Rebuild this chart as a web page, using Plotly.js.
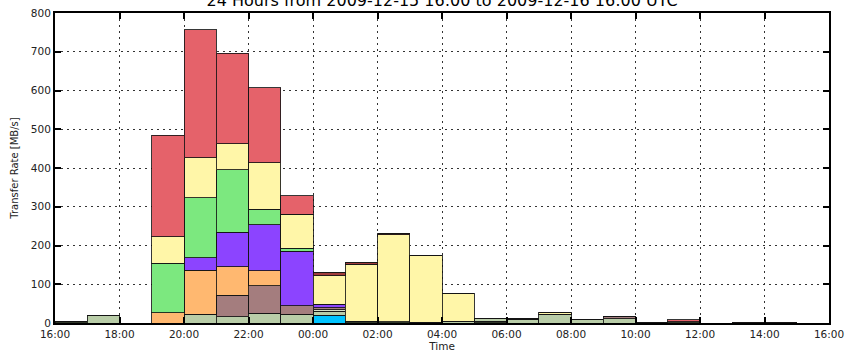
<!DOCTYPE html>
<html>
<head>
<meta charset="utf-8">
<script src="https://cdn.plot.ly/plotly-3.0.1.min.js"></script>
<style>html,body{margin:0;padding:0;background:#fff;}#chart{width:847px;height:352px;}</style>
</head>
<body>
<div id="chart"></div>
<script>
// Hourly bins (start times), 2009-12-15 16:00 .. 2009-12-16 15:00 UTC
const binStart = [
  "2009-12-15 16:00","2009-12-15 17:00","2009-12-15 18:00","2009-12-15 19:00",
  "2009-12-15 20:00","2009-12-15 21:00","2009-12-15 22:00","2009-12-15 23:00",
  "2009-12-16 00:00","2009-12-16 01:00","2009-12-16 02:00","2009-12-16 03:00",
  "2009-12-16 04:00","2009-12-16 05:00","2009-12-16 06:00","2009-12-16 07:00",
  "2009-12-16 08:00","2009-12-16 09:00","2009-12-16 10:00","2009-12-16 11:00",
  "2009-12-16 12:00","2009-12-16 13:00","2009-12-16 14:00","2009-12-16 15:00"
];

// Series values in MB/s (stack order bottom -> top)
const darkVals   = [3,0,0,0, 0,0,0,0, 0,5,3,2, 0,4,0,0, 0,0,2,3, 0,0,0,0];
const cyanVals   = [0,0,0,0, 0,0,0,0, 20,0,0,0, 0,0,0,0, 0,0,0,0, 0,0,0,0];
const sageVals   = [0,20,0,0, 22,16,25,22, 10,0,0,0, 5,8,10,23, 9,11,0,0, 0,0,0,0];
const lightVals  = [0,0,0,0, 0,0,0,0, 4,0,0,0, 0,0,0,0, 0,0,0,0, 0,0,0,0];
const mauveVals  = [0,0,0,0, 0,56,71,23, 6,0,0,0, 0,0,0,0, 0,5,0,0, 0,0,0,0];
const orangeVals = [0,0,0,26, 114,73,39,0, 0,0,0,0, 0,0,0,0, 0,0,0,0, 0,0,0,0];
const purpleVals = [0,0,0,0, 32,89,118,140, 8,0,0,0, 0,0,2,0, 0,0,0,0, 0,0,0,0];
const greenVals  = [0,0,0,128, 155,161,41,8, 0,0,0,0, 0,0,0,0, 0,0,0,0, 0,0,0,0];
const yellowVals = [0,0,0,69, 103,67,120,88, 74,146,225,172, 70,0,0,5, 0,0,0,0, 0,0,0,0];
const dkredVals  = [0,0,0,0, 0,0,0,0, 8,4,3,0, 0,0,0,0, 0,0,0,0, 0,2,2,0];
const redVals    = [0,0,0,262, 331,234,193,48, 0,0,0,0, 0,0,0,0, 0,0,0,6, 0,0,0,0];

const seriesNames  = ["S-dark","S-cyan","S-sage","S-light","S-mauve","S-orange","S-purple","S-green","S-yellow","S-darkred","S-red"];
const seriesValues = [darkVals,cyanVals,sageVals,lightVals,mauveVals,orangeVals,purpleVals,greenVals,yellowVals,dkredVals,redVals];
const seriesColors = ["#2e3628","#00c4ff","#b9cda8","#d4dfc6","#a47d7e","#ffb870","#8c44ff","#7ce87f","#fff6a8","#a23c3c","#e5626a"];

const HOUR_MS = 3600000;
const traces = seriesNames.map((n, i) => ({
  type: "bar",
  name: n,
  x: binStart,
  y: seriesValues[i],
  width: HOUR_MS,
  offset: 0,
  marker: { color: seriesColors[i], line: { color: "rgba(20,20,20,0.85)", width: 1 } },
  showlegend: false,
  hoverinfo: "skip"
}));

const font = "DejaVu Sans, Liberation Sans, sans-serif";
const layout = {
  width: 847, height: 352,
  margin: { l: 55, r: 18, t: 13, b: 29, pad: 0 },
  paper_bgcolor: "#ffffff", plot_bgcolor: "#ffffff",
  barmode: "stack", bargap: 0,
  font: { family: font, size: 10.5, color: "#222" },
  title: {
    text: "24 Hours from 2009-12-15 16:00 to 2009-12-16 16:00 UTC",
    font: { family: font, size: 16, color: "#000" },
    x: 0.522, xanchor: "center",
    y: 0.998, yref: "container", yanchor: "middle"
  },
  xaxis: {
    type: "date",
    range: ["2009-12-15 16:00", "2009-12-16 16:00"],
    tick0: "2009-12-15 16:00", dtick: 2 * HOUR_MS, tickformat: "%H:%M",
    ticks: "inside", ticklen: 6, tickwidth: 2, tickcolor: "#000",
    showline: true, linecolor: "#000", linewidth: 2, mirror: "ticks",
    showgrid: true, gridcolor: "#333", gridwidth: 1, griddash: "2px,4px",
    zeroline: false,
    tickfont: { family: font, size: 10.5, color: "#222" },
    title: { text: "Time", font: { family: font, size: 10.5, color: "#222" }, standoff: 2 }
  },
  yaxis: {
    range: [0, 800], dtick: 100, tick0: 0,
    ticks: "inside", ticklen: 6, tickwidth: 2, tickcolor: "#000",
    showline: true, linecolor: "#000", linewidth: 2, mirror: "ticks",
    showgrid: true, gridcolor: "#333", gridwidth: 1, griddash: "2px,4px",
    zeroline: false,
    tickfont: { family: font, size: 10.5, color: "#222" },
    title: { text: "Transfer Rate [MB/s]", font: { family: font, size: 10, color: "#222" }, standoff: 10 }
  }
};

Plotly.newPlot("chart", traces, layout, { staticPlot: true, displayModeBar: false });
</script>
</body>
</html>
